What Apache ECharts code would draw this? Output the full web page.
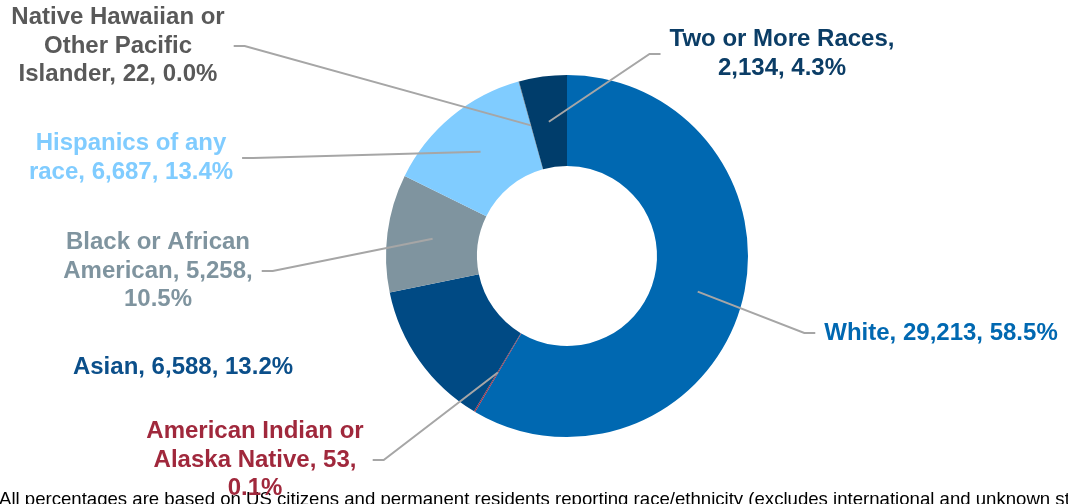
<!DOCTYPE html>
<html>
<head>
<meta charset="utf-8">
<script src="https://cdn.jsdelivr.net/npm/echarts@6/dist/echarts.min.js"></script>
<style>
  html, body { margin: 0; padding: 0; background: #fff; }
  #chart { width: 1068px; height: 504px; }
</style>
</head>
<body>
<div id="chart"></div>
<script>
// slices, clockwise from 12 o'clock
const categories = [
  'White',
  'American Indian or Alaska Native',
  'Asian',
  'Black or African American',
  'Hispanics of any race',
  'Native Hawaiian or Other Pacific Islander',
  'Two or More Races'
]
const counts = [29213, 53, 6588, 5258, 6687, 22, 2134]

// how each label is wrapped as printed ({c} count, {d} percent)
const labelTemplates = [
  'White, {c}, {d}%',
  'American Indian or\nAlaska Native, {c},\n{d}%',
  'Asian, {c}, {d}%',
  'Black or African\nAmerican, {c},\n{d}%',
  'Hispanics of any\nrace, {c}, {d}%',
  'Native Hawaiian or\nOther Pacific\nIslander, {c}, {d}%',
  'Two or More Races,\n{c}, {d}%'
]

const sliceColors = ['#0068b1', '#a0283c', '#004a84', '#7f949f', '#80ccff', '#5a5a5a', '#003d6b']
const textColors = ['#0068b1', '#a0283c', '#0b4f8a', '#7f949f', '#80ccff', '#595959', '#0b3d66']
const showLeader = [true, true, false, true, true, true, true]

// label block centres
const labelPos = [
  [941, 333],
  [255, 460],
  [183, 367],
  [158, 271],
  [131, 158],
  [118, 46],
  [782, 54]
]

const footnote = 'All percentages are based on US citizens and permanent residents reporting race/ethnicity (excludes international and unknown status)'

const center = [567, 256]
const radius = [90, 181]
const fontFamily = '"Liberation Sans", Arial, sans-serif'

const chart = echarts.init(document.getElementById('chart'))

const baseSeries = {
  type: 'pie',
  center: center,
  radius: radius,
  startAngle: 90,
  clockwise: true,
  avoidLabelOverlap: false,
  percentPrecision: 1,
  emphasis: { disabled: true }
}

// leader lines start in the middle of the ring and sit on top of the slices,
// so the labels come from a transparent copy of the ring drawn above it
function labelLayout(params) {
  const i = params.dataIndex
  const [x, y] = labelPos[i]
  const pts = params.labelLinePoints
  const layout = { x, y, align: 'center', verticalAlign: 'middle' }
  if (!pts || !showLeader[i]) {
    return layout
  }
  const dx = pts[0][0] - pts[1][0]
  const dy = pts[0][1] - pts[1][1]
  const len = Math.hypot(dx, dy) || 1
  const inset = (radius[1] - radius[0]) / 2
  const start = [pts[0][0] + dx / len * inset, pts[0][1] + dy / len * inset]
  const side = x > center[0] ? -1 : 1
  const endX = x + side * (params.labelRect.width / 2 + 9)
  layout.labelLinePoints = [start, [endX + side * 11, y], [endX, y]]
  return layout
}

chart.setOption({
  animation: false,
  series: [
    Object.assign({}, baseSeries, {
      z: 2,
      label: { show: false },
      labelLine: { show: false },
      data: categories.map((name, i) => ({
        name,
        value: counts[i],
        itemStyle: { color: sliceColors[i] }
      }))
    }),
    Object.assign({}, baseSeries, {
      z: 3,
      silent: true,
      itemStyle: { color: 'rgba(0,0,0,0)' },
      label: {
        show: true,
        position: 'outside',
        alignTo: 'none',
        fontFamily: fontFamily,
        fontSize: 24,
        fontWeight: 'bold',
        lineHeight: 28.5,
        align: 'center',
        formatter: params => labelTemplates[params.dataIndex]
          .replace('{c}', params.value.toLocaleString('en-US'))
          .replace('{d}', params.percent.toFixed(1))
      },
      labelLine: {
        show: true,
        length: 15,
        length2: 10,
        smooth: false,
        lineStyle: {
          color: '#a6a6a6',
          width: 2
        }
      },
      labelLayout: labelLayout,
      data: categories.map((name, i) => ({
        name,
        value: counts[i],
        label: { color: textColors[i] },
        labelLine: { show: showLeader[i] }
      }))
    })
  ],
  graphic: [
    {
      type: 'text',
      left: -1,
      top: 490,
      z: 1,
      style: {
        text: footnote,
        fill: '#000',
        font: '18.6px "Liberation Sans", Arial, sans-serif'
      }
    }
  ]
})
</script>
</body>
</html>
